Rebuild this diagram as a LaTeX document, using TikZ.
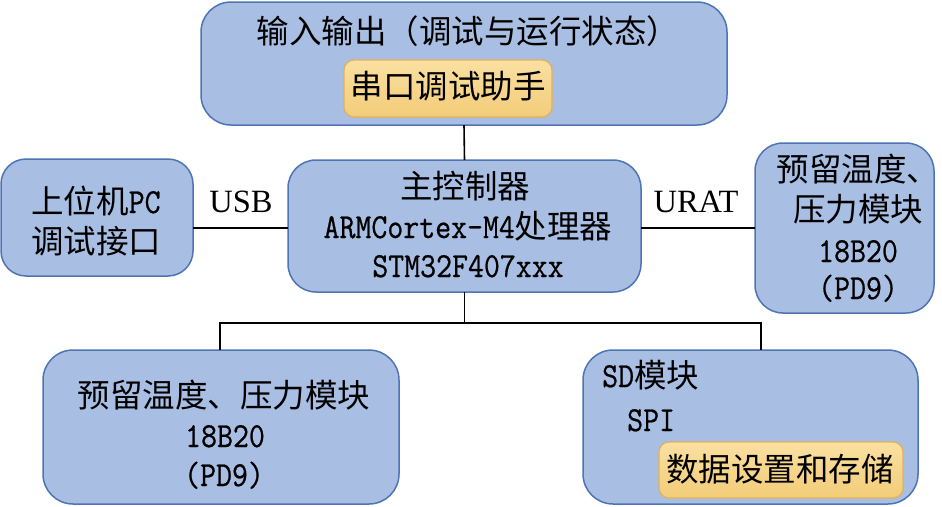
\documentclass[tikz,border=0pt]{standalone}
\usepackage{fontspec}
\setmainfont{Liberation Serif}
\newfontfamily\cjk{Noto Sans CJK SC}
\newfontfamily\hw{Latin Modern Mono}[Scale=1.08,FakeStretch=0.882,FakeBold=0.6]
\definecolor{boxfill}{HTML}{A8BEE2}
\definecolor{boxline}{HTML}{4F74B3}
\definecolor{ytop}{HTML}{FAE0A2}
\definecolor{ybot}{HTML}{F2CC78}
\definecolor{yline}{HTML}{E0B25A}
\tikzset{
  bluebox/.style={draw=boxline, fill=boxfill, line width=1.5pt, rounded corners=#1, inner sep=0pt, outer sep=0pt},
  bluebox/.default=28pt,
  yellowbox/.style={draw=yline, top color=ytop, bottom color=ybot, line width=1.2pt, rounded corners=10pt, inner sep=0pt, outer sep=0pt},
  txt/.style={inner sep=0pt, anchor=base, font=\fontsize{32.5}{40}\selectfont},
  txtl/.style={txt, anchor=base west},
  conn/.style={draw=black, line width=1.6pt}
}
\begin{document}
\begin{tikzpicture}[x=1pt,y=-1pt]
\useasboundingbox (0,0) rectangle (942,506);
% boxes
\node[bluebox=30pt, minimum width=526pt, minimum height=123pt] (top) at (464,63.5) {};
\node[yellowbox, minimum width=208pt, minimum height=57pt] (ser) at (448,88.5) {};
\node[bluebox, minimum width=353pt, minimum height=132pt] (main) at (464.5,226) {};
\node[bluebox=25pt, minimum width=192pt, minimum height=117pt] (pc) at (97,217.5) {};
\node[bluebox, minimum width=179pt, minimum height=170pt] (rt) at (844.5,228) {};
\node[bluebox=30pt, minimum width=356pt, minimum height=154pt] (bl) at (221,427) {};
\node[bluebox=30pt, minimum width=335pt, minimum height=154pt] (br) at (750.5,427) {};
\node[yellowbox, minimum width=244pt, minimum height=56pt] (dat) at (781,470) {};
% texts
\node[txt] (t1) at (468,43) {\cjk 输入输出（调试与运行状态）};
\node[txt] (t2) at (448,98) {\cjk 串口调试助手};
\node[txt] (m1) at (465,198) {\cjk 主控制器};
\node[txt] (m2) at (468,238) {{\hw ARMCortex-M4}{\cjk 处理器}};
\node[txt] (m3) at (468,277) {\hw STM32F407xxx};
\node[txt] (usb) at (241,212) {USB};
\node[txt] (urat) at (696,212) {URAT};
\node[txtl] (p1) at (31,213) {{\cjk 上位机}{\hw PC}};
\node[txtl] (p2) at (31,253) {\cjk 调试接口};
\node[txt] (r1) at (858,181) {\cjk 预留温度、};
\node[txt] (r2) at (858,221) {\cjk 压力模块};
\node[txt] (r3) at (858,262) {\hw 18B20};
\node[txt] (r4) at (858,299) {\hw (PD9)};
\node[txt] (b1) at (224,407) {\cjk 预留温度、压力模块};
\node[txt] (b2) at (225,447) {\hw 18B20};
\node[txt] (b3) at (224,486) {\hw (PD9)};
\node[txtl] (s1) at (602,387) {{\hw SD}{\cjk 模块}};
\node[txtl] (s2) at (627,431) {\hw SPI};
\node[txt] (s3) at (780,481) {\cjk 数据设置和存储};
% connectors
\coordinate (lineY) at (0,228);
\coordinate (busL) at (220,323);
\coordinate (busR) at (761,323);
\draw[conn] (top.south) -- (main.north);
\draw[conn] (pc.east |- lineY) -- (main.west |- lineY);
\draw[conn] (main.east |- lineY) -- (rt.west |- lineY);
\draw[conn] (main.south) -- (main.south |- busL);
\draw[conn] (bl.north -| busL) -- (busL) -- (busR) -- (br.north -| busR);
\end{tikzpicture}
\end{document}
